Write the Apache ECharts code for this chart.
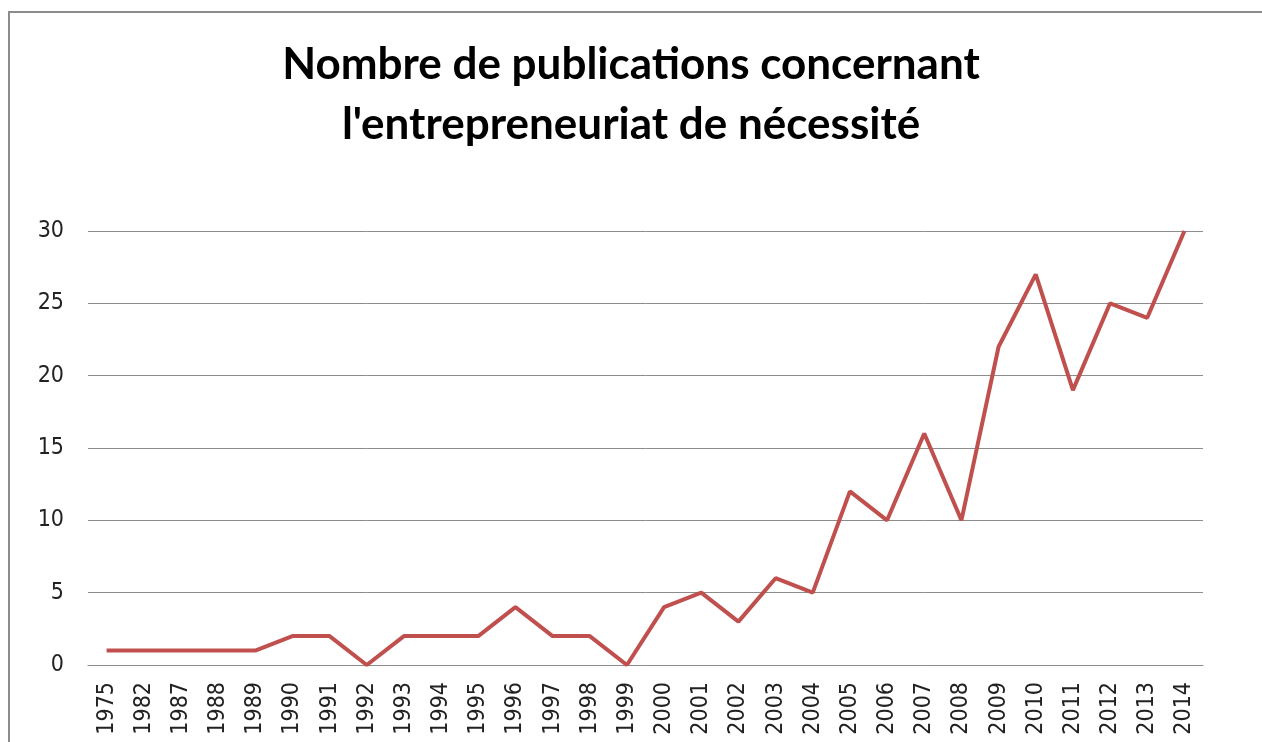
<!DOCTYPE html>
<html>
<head>
<meta charset="utf-8">
<script src="https://cdn.jsdelivr.net/npm/echarts@6/dist/echarts.min.js"></script>
<style>
  html, body { margin: 0; padding: 0; background: #fff; }
  #frame {
    position: absolute; left: 8px; top: 11px; width: 1300px; height: 800px;
    border-left: 2px solid #8c8c8c; border-top: 2px solid #8c8c8c;
  }
  #chart { position: absolute; left: 0; top: 0; width: 1262px; height: 742px; }
</style>
</head>
<body>
<div id="frame"></div>
<div id="chart"></div>
<script>
var years = ["1975", "1982", "1987", "1988", "1989", "1990", "1991", "1992", "1993", "1994",
  "1995", "1996", "1997", "1998", "1999", "2000", "2001", "2002", "2003", "2004",
  "2005", "2006", "2007", "2008", "2009", "2010", "2011", "2012", "2013", "2014"];
var publications = [1, 1, 1, 1, 1, 2, 2, 0, 2, 2,
  2, 4, 2, 2, 0, 4, 5, 3, 6, 5,
  12, 10, 16, 10, 22, 27, 19, 25, 24, 30];

var myChart = echarts.init(document.getElementById("chart"));
var option = {
  animation: false,
  title: {
    text: "Nombre de publications concernant\nl'entrepreneuriat de nécessité",
    left: "center",
    top: 30,
    textStyle: {
      fontFamily: "Lato",
      fontWeight: "bold",
      fontSize: 44,
      lineHeight: 60,
      color: "#000"
    }
  },
  grid: { left: 88, right: 59, top: 231, bottom: 77 },
  xAxis: {
    type: "category",
    data: years,
    axisLine: { show: true, lineStyle: { color: "#8c8c8c", width: 1 } },
    axisTick: { show: false },
    axisLabel: {
      rotate: 90,
      interval: 0,
      margin: 17,
      fontFamily: "DejaVu Sans Condensed",
      fontSize: 23,
      color: "#222"
    }
  },
  yAxis: {
    type: "value",
    min: 0,
    max: 30,
    interval: 5,
    axisLine: { show: false },
    axisTick: { show: false },
    splitLine: { lineStyle: { color: "#8c8c8c", width: 1 } },
    axisLabel: {
      margin: 24,
      fontFamily: "DejaVu Sans Condensed",
      fontSize: 23,
      color: "#222"
    }
  },
  series: [{
    type: "line",
    data: publications,
    symbol: "none",
    lineStyle: { color: "#c0504d", width: 4 }
  }]
};
myChart.setOption(option);
</script>
</body>
</html>
